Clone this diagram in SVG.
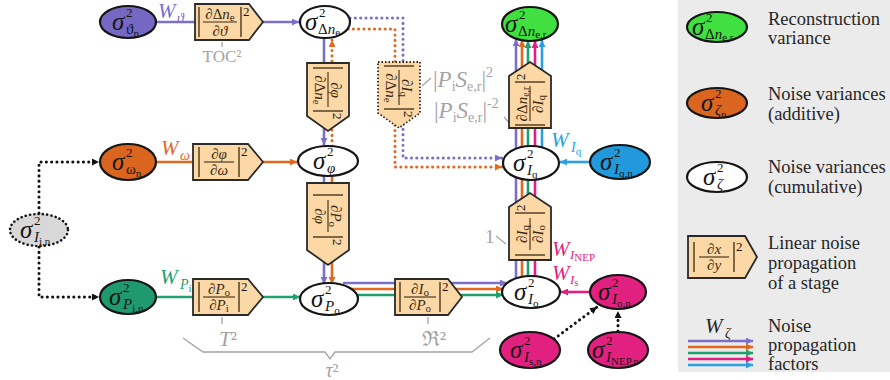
<svg xmlns="http://www.w3.org/2000/svg" width="890" height="380" viewBox="0 0 890 380">
<defs>
<style>
text{font-family:"Liberation Serif","Times New Roman",serif}
.nd{stroke:#151515;stroke-width:2.2}
.bx{fill:#fcd8a6;stroke:#2a2a2a;stroke-width:1.8}
.s{font-size:25px;font-style:italic;fill:#151515}
.p{font-size:13px;fill:#151515}
.b{font-size:15px;fill:#151515}
.i{font-style:italic}
.ss{font-size:11px;font-style:normal}
.f{font-size:15px;fill:#3b2a12}
.fl{stroke:#3b2a12;stroke-width:1.1}
.br{stroke:#3b2a12;stroke-width:1.3}
.g{fill:#a3a3a3}
.gl{stroke:#a3a3a3;stroke-width:1.3;fill:none}
.lg{font-size:18.5px;fill:#262626}
.w{font-size:21px;font-style:italic}
.ln{fill:none;stroke-width:2.6}
.dt{fill:none;stroke-width:3;stroke-linecap:round;stroke-dasharray:0.1 5.2}
.cP{stroke:#7b6fca}.cO{stroke:#e2671f}.cG{stroke:#1fa06d}.cM{stroke:#e21f80}.cB{stroke:#2c9fe2}.cK{stroke:#111}
</style>
<marker id="mP" viewBox="0 0 10 10" refX="10" refY="5" markerWidth="8" markerHeight="7" markerUnits="userSpaceOnUse" orient="auto"><path d="M0,0L10,5L0,10z" fill="#7b6fca"/></marker>
<marker id="mO" viewBox="0 0 10 10" refX="10" refY="5" markerWidth="8" markerHeight="7" markerUnits="userSpaceOnUse" orient="auto"><path d="M0,0L10,5L0,10z" fill="#e2671f"/></marker>
<marker id="mG" viewBox="0 0 10 10" refX="10" refY="5" markerWidth="8" markerHeight="7" markerUnits="userSpaceOnUse" orient="auto"><path d="M0,0L10,5L0,10z" fill="#1fa06d"/></marker>
<marker id="mM" viewBox="0 0 10 10" refX="10" refY="5" markerWidth="8" markerHeight="7" markerUnits="userSpaceOnUse" orient="auto"><path d="M0,0L10,5L0,10z" fill="#e21f80"/></marker>
<marker id="mB" viewBox="0 0 10 10" refX="10" refY="5" markerWidth="8" markerHeight="7" markerUnits="userSpaceOnUse" orient="auto"><path d="M0,0L10,5L0,10z" fill="#2c9fe2"/></marker>
<marker id="mK" viewBox="0 0 10 10" refX="10" refY="5" markerWidth="8" markerHeight="7" markerUnits="userSpaceOnUse" orient="auto"><path d="M0,0L10,5L0,10z" fill="#111"/></marker>
</defs>
<rect width="890" height="380" fill="#fff"/>
<rect id="legend-panel" x="678" y="0" width="212" height="372" fill="#ebebeb"/>

<g id="connectors">
<line class="ln cP" x1="156" y1="22" x2="195" y2="22"/>
<line class="ln cP" x1="263" y1="22" x2="299" y2="22" marker-end="url(#mP)"/>
<line class="ln cP" x1="324" y1="37" x2="324" y2="145" marker-end="url(#mP)"/>
<line class="dt cO" x1="332" y1="146" x2="332" y2="40" marker-end="url(#mO)"/>
<line class="ln cP" x1="324" y1="175" x2="324" y2="284" marker-end="url(#mP)"/>
<line class="ln cO" x1="332" y1="175" x2="332" y2="284" marker-end="url(#mO)"/>
<path class="dt cP" d="M350,18H403V158H502" marker-end="url(#mP)"/>
<path class="dt cO" d="M348,29H395V167H502" marker-end="url(#mO)"/>
<path class="dt cK" d="M39,213V162H99" marker-end="url(#mK)"/>
<path class="dt cK" d="M39,247V297H99" marker-end="url(#mK)"/>
<line class="ln cO" x1="156" y1="162" x2="193" y2="162"/>
<line class="ln cO" x1="263" y1="162" x2="297" y2="162" marker-end="url(#mO)"/>
<line class="ln cG" x1="156" y1="297" x2="193" y2="297"/>
<line class="ln cG" x1="263" y1="297" x2="300" y2="297" marker-end="url(#mG)"/>
<line class="ln cP" x1="343" y1="283" x2="507" y2="283" marker-end="url(#mP)"/>
<line class="ln cO" x1="350" y1="289" x2="503" y2="289" marker-end="url(#mO)"/>
<line class="ln cG" x1="355" y1="295" x2="503" y2="295" marker-end="url(#mG)"/>
<line class="ln cP" x1="516" y1="285" x2="516" y2="170"/>
<line class="ln cO" x1="522" y1="285" x2="522" y2="170"/>
<line class="ln cG" x1="528" y1="285" x2="528" y2="170"/>
<line class="ln cM" x1="535" y1="285" x2="535" y2="170"/>
<line class="ln cP" x1="516" y1="160" x2="516" y2="39" marker-end="url(#mP)"/>
<line class="ln cO" x1="522" y1="160" x2="522" y2="40" marker-end="url(#mO)"/>
<line class="ln cG" x1="528" y1="160" x2="528" y2="41" marker-end="url(#mG)"/>
<line class="ln cM" x1="535" y1="160" x2="535" y2="41" marker-end="url(#mM)"/>
<line class="ln cB" x1="542" y1="160" x2="542" y2="40" marker-end="url(#mB)"/>
<line class="ln cB" x1="590" y1="162" x2="560" y2="162" marker-end="url(#mB)"/>
<line class="ln cM" x1="591" y1="292" x2="561" y2="292" marker-end="url(#mM)"/>
<line class="dt cK" x1="554" y1="339" x2="597" y2="307" marker-end="url(#mK)"/>
<line class="dt cK" x1="618" y1="331" x2="618" y2="311" marker-end="url(#mK)"/>
</g>

<g id="n-theta">
<ellipse class="nd" cx="128" cy="22" rx="28" ry="16" fill="#7468c3"/>
<text class="s" x="112" y="30">σ</text><text class="p" x="126" y="17">2</text>
<text class="b" x="126" y="34">ϑ<tspan class="ss" dy="3">n</tspan></text>
</g>
<g id="w-theta" fill="#7b6fca"><text class="w" x="158" y="18">W</text><text x="177" y="23" font-size="14" font-style="italic">ϑ</text></g>
<g id="box-dne-dtheta">
<polygon class="bx" points="195,4 249,4 263,22 249,40 195,40"/>
<g transform="translate(220,22)">
<line class="br" x1="-21" y1="-15" x2="-21" y2="15"/><line class="br" x1="21" y1="-15" x2="21" y2="15"/>
<text class="f" x="0" y="-3" text-anchor="middle">∂Δ<tspan class="i">n</tspan><tspan font-size="11" dy="2">e</tspan></text>
<line class="fl" x1="-17" y1="0" x2="17" y2="0"/>
<text class="f" x="0" y="14" text-anchor="middle">∂<tspan class="i">ϑ</tspan></text>
<text class="p" x="23" y="-6">2</text>
</g>
<line class="gl" x1="222" y1="42" x2="222" y2="47"/>
<text class="g" x="222" y="62" font-size="17" text-anchor="middle">TOC²</text>
</g>
<g id="n-dne">
<ellipse class="nd" cx="325" cy="22" rx="25" ry="16" fill="#fff"/>
<text class="s" x="305" y="30">σ</text><text class="p" x="319" y="17">2</text>
<text class="b" x="318" y="34">Δ<tspan class="i">n</tspan><tspan class="ss" dy="2">e</tspan></text>
</g>

<g id="box-dphi-ddne">
<polygon class="bx" points="307,63 349,63 349,116 328,131 307,116"/>
<g transform="translate(328,90) rotate(90)">
<line class="br" x1="-22" y1="-15" x2="-22" y2="15"/><line class="br" x1="21" y1="-15" x2="21" y2="15"/>
<text class="f" x="0" y="-3" text-anchor="middle">∂<tspan class="i">φ</tspan></text>
<line class="fl" x1="-18" y1="0" x2="17" y2="0"/>
<text class="f" x="0" y="13" text-anchor="middle">∂Δ<tspan class="i">n</tspan><tspan font-size="11" dy="2">e</tspan></text>
<text class="p" x="23" y="-5">2</text>
</g>
</g>
<g id="box-diq-ddne">
<polygon class="bx" points="378,62 420,62 420,113 399,128 378,113" stroke-dasharray="1.5 2"/>
<g transform="translate(399,88) rotate(90)">
<line class="br" x1="-22" y1="-15" x2="-22" y2="15"/><line class="br" x1="21" y1="-15" x2="21" y2="15"/>
<text class="f" x="0" y="-3" text-anchor="middle">∂<tspan class="i">I</tspan><tspan font-size="11" dy="2">q</tspan></text>
<line class="fl" x1="-18" y1="0" x2="17" y2="0"/>
<text class="f" x="0" y="13" text-anchor="middle">∂Δ<tspan class="i">n</tspan><tspan font-size="11" dy="2">e</tspan></text>
<text class="p" x="23" y="-5">2</text>
</g>
</g>
<g id="ann-pse">
<line class="gl" x1="422" y1="86" x2="431" y2="78"/>
<text class="g" x="433" y="87" font-size="23">|<tspan class="i">P</tspan><tspan font-size="14" dy="4">i</tspan><tspan class="i" dy="-4">S</tspan><tspan font-size="14" dy="4">e,r</tspan><tspan dy="-4">|</tspan><tspan font-size="14" dy="-10">2</tspan></text>
<text class="g" x="434" y="118" font-size="23">|<tspan class="i">P</tspan><tspan font-size="14" dy="4">i</tspan><tspan class="i" dy="-4">S</tspan><tspan font-size="14" dy="4">e,r</tspan><tspan dy="-4">|</tspan><tspan font-size="14" dy="-10">-2</tspan></text>
<line class="gl" x1="504" y1="117" x2="511" y2="125"/>
</g>

<g id="n-dner">
<ellipse class="nd" cx="530" cy="24" rx="28" ry="17" fill="#3fe03f"/>
<text class="s" x="505" y="32">σ</text><text class="p" x="519" y="19">2</text>
<text class="b" x="518" y="36">Δ<tspan class="i">n</tspan><tspan class="ss" dy="2">e,r</tspan></text>
</g>
<g id="box-ddner-diq">
<polygon class="bx" points="509,128 551,128 551,76 530,62 509,76"/>
<g transform="translate(530,102) rotate(-90)">
<line class="br" x1="-23" y1="-15" x2="-23" y2="15"/><line class="br" x1="20" y1="-15" x2="20" y2="15"/>
<text class="f" x="-2" y="-3" text-anchor="middle" font-size="14">∂Δ<tspan class="i">n</tspan><tspan font-size="10" dy="2">e,r</tspan></text>
<line class="fl" x1="-19" y1="0" x2="16" y2="0"/>
<text class="f" x="-2" y="13" text-anchor="middle">∂<tspan class="i">I</tspan><tspan font-size="11" dy="2">q</tspan></text>
<text class="p" x="22" y="-5">2</text>
</g>
</g>

<g id="n-omega">
<ellipse class="nd" cx="128" cy="162" rx="28" ry="18" fill="#d9651e"/>
<text class="s" x="112" y="170">σ</text><text class="p" x="126" y="157">2</text>
<text class="b" x="126" y="174">ω<tspan class="ss" dy="3">n</tspan></text>
</g>
<g id="w-omega" fill="#e2671f"><text class="w" x="161" y="155">W</text><text x="180" y="160" font-size="14" font-style="italic">ω</text></g>
<g id="box-dphi-domega">
<polygon class="bx" points="193,144 248,144 263,162 248,180 193,180"/>
<g transform="translate(219,162)">
<line class="br" x1="-20" y1="-15" x2="-20" y2="15"/><line class="br" x1="20" y1="-15" x2="20" y2="15"/>
<text class="f" x="0" y="-3" text-anchor="middle">∂<tspan class="i">φ</tspan></text>
<line class="fl" x1="-15" y1="0" x2="15" y2="0"/>
<text class="f" x="0" y="13" text-anchor="middle">∂<tspan class="i">ω</tspan></text>
<text class="p" x="22" y="-6">2</text>
</g>
</g>
<g id="n-phi">
<ellipse class="nd" cx="328" cy="161" rx="30" ry="15" fill="#fff"/>
<text class="s" x="313" y="169">σ</text><text class="p" x="327" y="156">2</text>
<text class="b" x="327" y="173" font-style="italic">φ</text>
</g>
<g id="box-dpo-dphi">
<polygon class="bx" points="307,183 349,183 349,250 328,265 307,250"/>
<g transform="translate(328,216) rotate(90)">
<line class="br" x1="-21" y1="-15" x2="-21" y2="15"/><line class="br" x1="21" y1="-15" x2="21" y2="15"/>
<text class="f" x="0" y="-3" text-anchor="middle">∂<tspan class="i">P</tspan><tspan font-size="11" dy="2">o</tspan></text>
<line class="fl" x1="-16" y1="0" x2="16" y2="0"/>
<text class="f" x="0" y="13" text-anchor="middle">∂<tspan class="i">φ</tspan></text>
<text class="p" x="23" y="-5">2</text>
</g>
</g>

<g id="n-iq">
<ellipse class="nd" cx="531" cy="163" rx="28" ry="17" fill="#fff"/>
<text class="s" x="513" y="171">σ</text><text class="p" x="527" y="158">2</text>
<text class="b" x="527" y="175" font-style="italic">I<tspan class="ss" dy="3">q</tspan></text>
</g>
<g id="n-iqn">
<ellipse class="nd" cx="620" cy="162" rx="30" ry="17" fill="#2299dd"/>
<text class="s" x="600" y="170">σ</text><text class="p" x="614" y="157">2</text>
<text class="b" x="614" y="174" font-style="italic">I<tspan class="ss" dy="3">q,n</tspan></text>
</g>
<g id="w-iq" fill="#2c9fe2"><text class="w" x="551" y="147">W</text><text x="571" y="152" font-size="14" font-style="italic">I<tspan font-size="11" font-style="normal" dy="3">q</tspan></text></g>

<g id="box-diq-dio">
<polygon class="bx" points="509,260 551,260 551,207 530,193 509,207"/>
<g transform="translate(530,234) rotate(-90)">
<line class="br" x1="-21" y1="-15" x2="-21" y2="15"/><line class="br" x1="21" y1="-15" x2="21" y2="15"/>
<text class="f" x="0" y="-3" text-anchor="middle">∂<tspan class="i">I</tspan><tspan font-size="11" dy="2">q</tspan></text>
<line class="fl" x1="-16" y1="0" x2="16" y2="0"/>
<text class="f" x="0" y="13" text-anchor="middle">∂<tspan class="i">I</tspan><tspan font-size="11" dy="2">o</tspan></text>
<text class="p" x="23" y="-5">2</text>
</g>
<text class="g" x="485" y="243" font-size="19">1</text>
<line class="gl" x1="496" y1="236" x2="506" y2="244"/>
</g>
<g id="w-inep" fill="#e21f80">
<text class="w" x="552" y="256" font-size="20">W</text><text x="570" y="259" font-size="13" font-style="italic">I<tspan font-size="11" font-style="normal" dy="2">NEP</tspan></text>
<text class="w" x="552" y="280" font-size="20">W</text><text x="570" y="284" font-size="13" font-style="italic">I<tspan font-size="11" font-style="normal" dy="2">s</tspan></text>
</g>

<g id="n-iin">
<ellipse cx="39" cy="230" rx="29" ry="16" fill="#d8d8d8" stroke="#111" stroke-width="2.6" stroke-linecap="round" stroke-dasharray="0.1 4.2"/>
<text class="s" x="20" y="238">σ</text><text class="p" x="34" y="225">2</text>
<text class="b" x="34" y="242" font-style="italic">I<tspan class="ss" dy="3">i,n</tspan></text>
</g>

<g id="n-pin">
<ellipse class="nd" cx="128" cy="297" rx="28" ry="17" fill="#1f9a6f"/>
<text class="s" x="109" y="305">σ</text><text class="p" x="123" y="292">2</text>
<text class="b" x="123" y="309" font-style="italic">P<tspan class="ss" dy="3">i,n</tspan></text>
</g>
<g id="w-pi" fill="#1fa06d"><text class="w" x="160" y="284">W</text><text x="180" y="289" font-size="14" font-style="italic">P<tspan font-size="11" font-style="normal" dy="3">i</tspan></text></g>
<g id="box-dpo-dpi">
<polygon class="bx" points="193,279 248,279 263,297 248,315 193,315"/>
<g transform="translate(219,297)">
<line class="br" x1="-20" y1="-15" x2="-20" y2="15"/><line class="br" x1="20" y1="-15" x2="20" y2="15"/>
<text class="f" x="0" y="-3" text-anchor="middle">∂<tspan class="i">P</tspan><tspan font-size="11" dy="2">o</tspan></text>
<line class="fl" x1="-16" y1="0" x2="16" y2="0"/>
<text class="f" x="0" y="13" text-anchor="middle">∂<tspan class="i">P</tspan><tspan font-size="11" dy="2">i</tspan></text>
<text class="p" x="22" y="-6">2</text>
</g>
<line class="gl" x1="222" y1="317" x2="222" y2="324"/>
<text class="g" x="228" y="346" font-size="21" text-anchor="middle"><tspan font-style="italic">T</tspan>²</text>
</g>
<g id="n-po">
<ellipse class="nd" cx="329" cy="299" rx="29" ry="16" fill="#fff"/>
<text class="s" x="311" y="307">σ</text><text class="p" x="325" y="294">2</text>
<text class="b" x="325" y="311" font-style="italic">P<tspan class="ss" dy="3">o</tspan></text>
</g>
<g id="box-dio-dpo">
<polygon class="bx" points="395,279 448,279 462,297 448,315 395,315"/>
<g transform="translate(420,297)">
<line class="br" x1="-20" y1="-15" x2="-20" y2="15"/><line class="br" x1="20" y1="-15" x2="20" y2="15"/>
<text class="f" x="0" y="-3" text-anchor="middle">∂<tspan class="i">I</tspan><tspan font-size="11" dy="2">o</tspan></text>
<line class="fl" x1="-16" y1="0" x2="16" y2="0"/>
<text class="f" x="0" y="13" text-anchor="middle">∂<tspan class="i">P</tspan><tspan font-size="11" dy="2">o</tspan></text>
<text class="p" x="22" y="-6">2</text>
</g>
<line class="gl" x1="428" y1="317" x2="428" y2="324"/>
<text class="g" x="434" y="346" font-size="21" text-anchor="middle">ℜ²</text>
</g>
<g id="brace">
<path class="gl" d="M183,338L203,352H325L330,359L335,352H472L490,338"/>
<text class="g" x="332" y="377" font-size="20" text-anchor="middle"><tspan font-style="italic">τ</tspan>²</text>
</g>

<g id="n-io">
<ellipse class="nd" cx="531" cy="292" rx="29" ry="16" fill="#fff"/>
<text class="s" x="514" y="300">σ</text><text class="p" x="528" y="287">2</text>
<text class="b" x="528" y="304" font-style="italic">I<tspan class="ss" dy="3">o</tspan></text>
</g>
<g id="n-ion">
<ellipse class="nd" cx="618" cy="292" rx="28" ry="17" fill="#e2207f"/>
<text class="s" x="598" y="300">σ</text><text class="p" x="612" y="287">2</text>
<text class="b" x="612" y="304" font-style="italic">I<tspan class="ss" dy="3">o,n</tspan></text>
</g>
<g id="n-isn">
<ellipse class="nd" cx="530" cy="350" rx="30" ry="18" fill="#e2207f"/>
<text class="s" x="510" y="358">σ</text><text class="p" x="524" y="345">2</text>
<text class="b" x="524" y="362" font-style="italic">I<tspan class="ss" dy="3">s,n</tspan></text>
</g>
<g id="n-inepn">
<ellipse class="nd" cx="618" cy="350" rx="30" ry="18" fill="#e2207f"/>
<text class="s" x="592" y="358">σ</text><text class="p" x="606" y="345">2</text>
<text class="b" x="606" y="362" font-style="italic">I<tspan class="ss" dy="3">NEP,n</tspan></text>
</g>

<g id="legend">
<ellipse class="nd" cx="717" cy="27" rx="30" ry="15" fill="#3fe03f"/>
<text class="s" x="692" y="35">σ</text><text class="p" x="706" y="22">2</text>
<text class="b" x="705" y="39">Δ<tspan class="i">n</tspan><tspan class="ss" dy="2">e,r</tspan></text>
<text class="lg" x="768" y="25">Reconstruction</text><text class="lg" x="768" y="44">variance</text>
<ellipse class="nd" cx="717" cy="103" rx="30" ry="15" fill="#d9651e"/>
<text class="s" x="701" y="111">σ</text><text class="p" x="715" y="98">2</text>
<text class="b" x="715" y="115" font-style="italic">ζ<tspan class="ss" dy="3">n</tspan></text>
<text class="lg" x="768" y="100">Noise variances</text><text class="lg" x="768" y="120">(additive)</text>
<ellipse class="nd" cx="717" cy="177" rx="30" ry="15" fill="#fff"/>
<text class="s" x="703" y="185">σ</text><text class="p" x="717" y="172">2</text>
<text class="b" x="717" y="189" font-style="italic">ζ</text>
<text class="lg" x="768" y="173">Noise variances</text><text class="lg" x="768" y="193">(cumulative)</text>
<polygon class="bx" points="688,236 745,236 757,257 745,278 688,278"/>
<g transform="translate(714,257)">
<line class="br" x1="-20" y1="-15" x2="-20" y2="15"/><line class="br" x1="20" y1="-15" x2="20" y2="15"/>
<text class="f" x="0" y="-3" text-anchor="middle" font-style="italic">∂x</text>
<line class="fl" x1="-15" y1="0" x2="15" y2="0"/>
<text class="f" x="0" y="13" text-anchor="middle" font-style="italic">∂y</text>
<text class="p" x="22" y="-6">2</text>
</g>
<text class="lg" x="768" y="249">Linear noise</text><text class="lg" x="768" y="269">propagation</text><text class="lg" x="768" y="289">of a stage</text>
<text class="w" x="705" y="333" fill="#262626">W</text><text x="725" y="338" font-size="14" font-style="italic" fill="#262626">ζ</text>
<line class="ln cP" x1="688" y1="341" x2="753" y2="341" marker-end="url(#mP)"/>
<line class="ln cO" x1="688" y1="347" x2="753" y2="347" marker-end="url(#mO)"/>
<line class="ln cG" x1="688" y1="353" x2="753" y2="353" marker-end="url(#mG)"/>
<line class="ln cM" x1="688" y1="359" x2="753" y2="359" marker-end="url(#mM)"/>
<line class="ln cB" x1="688" y1="365" x2="753" y2="365" marker-end="url(#mB)"/>
<text class="lg" x="768" y="332">Noise</text><text class="lg" x="768" y="351">propagation</text><text class="lg" x="768" y="370">factors</text>
</g>
</svg>
